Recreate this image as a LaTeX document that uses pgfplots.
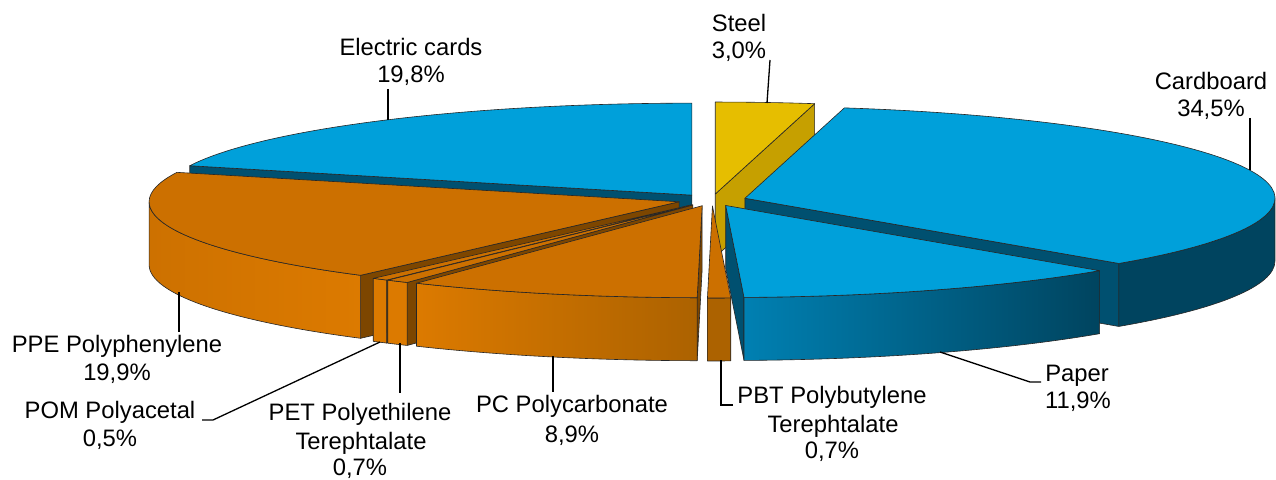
\documentclass[border=0pt]{standalone}
\usepackage{pgfplots}
\pgfplotsset{compat=1.18}
\usepackage{pgfplotstable}
\usepackage{fontspec}
\setmainfont{Liberation Sans}

\definecolor{bluetop}{RGB}{0,160,218}
\definecolor{bluewall}{RGB}{0,68,95}
\definecolor{bluewallL}{RGB}{0,128,178}
\definecolor{blueface}{RGB}{0,80,112}
\definecolor{ortop}{RGB}{204,112,0}
\definecolor{orwallL}{RGB}{220,122,0}
\definecolor{orwallM}{RGB}{205,113,0}
\definecolor{orwallR}{RGB}{172,98,0}
\definecolor{orface}{RGB}{125,70,0}
\definecolor{yeltop}{RGB}{230,190,0}
\definecolor{yelface}{RGB}{198,160,0}

\pgfplotstableread{
label value top wallL wallR face
Steel 3.0 yeltop yelface yelface yelface
Cardboard 34.5 bluetop bluewall bluewall blueface
Paper 11.9 bluetop bluewallL bluewall blueface
PBT 0.7 ortop orwallR orwallR orface
PC 8.9 ortop orwallL orwallR orface
PET 0.7 ortop orwallL orwallL orface
POM 0.5 ortop orwallL orwallL orface
PPE 19.9 ortop orwallM orwallL orface
Electric 19.8 bluetop bluewall bluewall blueface
}\piedata

\def\pieCx{712}\def\pieCy{279}\def\pieA{530}\def\pieB{92}\def\pieH{63}
\def\pieE{0.065}\def\pieTot{99.9}
\def\pieStore#1#2{\expandafter\xdef\csname pie#1@\i\endcsname{#2}}
\def\pv#1#2{\csname pie#1@#2\endcsname}

\tikzset{edge/.style={draw=black!85,line width=0.6pt,line join=round},
  lbl/.style={anchor=base,font=\fontsize{23.8}{28}\selectfont,inner sep=0pt},
  lead/.style={draw=black,line width=1.3pt}}

\newcommand\pieside[1]{%
  \ifnum\pv{Fs}{#1}=1
    \path[edge,fill=face#1] (axis cs:\pv{X}{#1},\pv{Y}{#1}) -- (axis cs:\pv{Sx}{#1},\pv{Sy}{#1})
      -- (axis cs:\pv{Sx}{#1},\pv{Syb}{#1}) -- (axis cs:\pv{X}{#1},\pv{Yb}{#1}) -- cycle;
  \fi
  \ifnum\pv{Fe}{#1}=1
    \path[edge,fill=face#1] (axis cs:\pv{X}{#1},\pv{Y}{#1}) -- (axis cs:\pv{Ex}{#1},\pv{Ey}{#1})
      -- (axis cs:\pv{Ex}{#1},\pv{Eyb}{#1}) -- (axis cs:\pv{X}{#1},\pv{Yb}{#1}) -- cycle;
  \fi
  \ifnum\pv{Fw}{#1}=1
    \path[edge,left color=wallL#1,right color=wallR#1] (axis cs:\pv{Wx}{#1},\pv{Wy}{#1})
      arc[start angle=\pv{Wa}{#1},end angle=\pv{Wb}{#1},x radius=\pieA pt,y radius=\pieB pt]
      -- ++(0pt,-\pieH pt)
      arc[start angle=\pv{Wb}{#1},end angle=\pv{Wa}{#1},x radius=\pieA pt,y radius=\pieB pt]
      -- cycle;
  \fi}
\newcommand\pietop[1]{%
  \path[edge,fill=top#1] (axis cs:\pv{X}{#1},\pv{Y}{#1}) -- (axis cs:\pv{Sx}{#1},\pv{Sy}{#1})
    arc[start angle=\pv{Sa}{#1},end angle=\pv{Ea}{#1},x radius=\pieA pt,y radius=\pieB pt] -- cycle;}

\begin{document}
\gdef\pieCum{90}%
\foreach \i in {1,...,9}{%
  \pgfmathtruncatemacro\pRow{\i-1}%
  \pgfplotstablegetelem{\pRow}{value}\of\piedata
  \edef\pVal{\pgfplotsretval}%
  \pgfplotstablegetelem{\pRow}{top}\of\piedata
  \xglobal\colorlet{top\i}{\pgfplotsretval}%
  \pgfplotstablegetelem{\pRow}{wallL}\of\piedata
  \xglobal\colorlet{wallL\i}{\pgfplotsretval}%
  \pgfplotstablegetelem{\pRow}{wallR}\of\piedata
  \xglobal\colorlet{wallR\i}{\pgfplotsretval}%
  \pgfplotstablegetelem{\pRow}{face}\of\piedata
  \xglobal\colorlet{face\i}{\pgfplotsretval}%
  \pgfmathsetmacro\pSa{\pieCum}%
  \pgfmathsetmacro\pEa{\pieCum-\pVal*360/\pieTot}%
  \pgfmathsetmacro\pMa{(\pSa+\pEa)/2}%
  \pgfmathsetmacro\pX{\pieCx+\pieE*\pieA*cos(\pMa)}%
  \pgfmathsetmacro\pY{\pieCy+\pieE*\pieB*sin(\pMa)}%
  \pgfmathsetmacro\pYb{\pY-\pieH}%
  \pgfmathsetmacro\pSx{\pX+\pieA*cos(\pSa)}%
  \pgfmathsetmacro\pSy{\pY+\pieB*sin(\pSa)}%
  \pgfmathsetmacro\pSyb{\pSy-\pieH}%
  \pgfmathsetmacro\pEx{\pX+\pieA*cos(\pEa)}%
  \pgfmathsetmacro\pEy{\pY+\pieB*sin(\pEa)}%
  \pgfmathsetmacro\pEyb{\pEy-\pieH}%
  \pgfmathsetmacro\pWa{max(\pEa,-180)}%
  \pgfmathsetmacro\pWb{min(\pSa,0)}%
  \pgfmathsetmacro\pWx{\pX+\pieA*cos(\pWa)}%
  \pgfmathsetmacro\pWy{\pY+\pieB*sin(\pWa)}%
  \pgfmathtruncatemacro\pFs{cos(\pSa)<-0.001}%
  \pgfmathtruncatemacro\pFe{cos(\pEa)>0.001}%
  \pgfmathtruncatemacro\pFw{\pWb>\pWa+0.01}%
  \pieStore{Sa}{\pSa}\pieStore{Ea}{\pEa}\pieStore{X}{\pX}\pieStore{Y}{\pY}\pieStore{Yb}{\pYb}%
  \pieStore{Sx}{\pSx}\pieStore{Sy}{\pSy}\pieStore{Syb}{\pSyb}%
  \pieStore{Ex}{\pEx}\pieStore{Ey}{\pEy}\pieStore{Eyb}{\pEyb}%
  \pieStore{Wa}{\pWa}\pieStore{Wb}{\pWb}\pieStore{Wx}{\pWx}\pieStore{Wy}{\pWy}%
  \pieStore{Fs}{\pFs}\pieStore{Fe}{\pFe}\pieStore{Fw}{\pFw}%
  \xdef\pieCum{\pEa}%
}%
\begin{tikzpicture}
\begin{axis}[x=1pt,y=1pt,xmin=0,xmax=1276,ymin=0,ymax=479,
  hide axis,clip=false]
\coordinate (bbsw) at (axis cs:0,0);
\coordinate (bbne) at (axis cs:1276,479);
% sides, back to front
\pieside{1}\pieside{9}\pieside{2}\pieside{8}\pieside{7}\pieside{6}\pieside{3}\pieside{5}\pieside{4}
% tops
\pietop{1}\pietop{9}\pietop{2}\pietop{8}\pietop{7}\pietop{6}\pietop{3}\pietop{5}\pietop{4}
% leader lines
\path[lead] (axis cs:388,390) -- (axis cs:388,359);
\path[lead] (axis cs:770,419) -- (axis cs:767,376);
\path[lead] (axis cs:1250,361) -- (axis cs:1250,309);
\path[lead] (axis cs:1041,97) -- (axis cs:1030,97) -- (axis cs:940,127);
\path[lead] (axis cs:733,74) -- (axis cs:721,74) -- (axis cs:721,119);
\path[lead] (axis cs:553,87) -- (axis cs:553,123);
\path[lead] (axis cs:400,86) -- (axis cs:400,136);
\path[lead] (axis cs:202,59) -- (axis cs:213,59) -- (axis cs:380,137);
\path[lead] (axis cs:179,147) -- (axis cs:179,187);
% labels
\node[lbl] at (axis cs:411,423) {Electric cards};
\node[lbl] at (axis cs:411,396) {19,8\%};
\node[lbl] at (axis cs:739,447) {Steel};
\node[lbl] at (axis cs:739,420) {3,0\%};
\node[lbl] at (axis cs:1211,389) {Cardboard};
\node[lbl] at (axis cs:1211,362) {34,5\%};
\node[lbl] at (axis cs:1077,97) {Paper};
\node[lbl] at (axis cs:1078,70) {11,9\%};
\node[lbl] at (axis cs:832,75) {PBT Polybutylene};
\node[lbl] at (axis cs:833,46) {Terephtalate};
\node[lbl] at (axis cs:832,20) {0,7\%};
\node[lbl] at (axis cs:572,66) {PC Polycarbonate};
\node[lbl] at (axis cs:572,37) {8,9\%};
\node[lbl] at (axis cs:360,59) {PET Polyethilene};
\node[lbl] at (axis cs:361,30) {Terephtalate};
\node[lbl] at (axis cs:360,4) {0,7\%};
\node[lbl] at (axis cs:110,60) {POM Polyacetal};
\node[lbl] at (axis cs:110,32) {0,5\%};
\node[lbl] at (axis cs:117,126) {PPE Polyphenylene};
\node[lbl] at (axis cs:117,98) {19,9\%};
\end{axis}
\pgfresetboundingbox
\path (bbsw) rectangle (bbne);
\end{tikzpicture}
\end{document}
